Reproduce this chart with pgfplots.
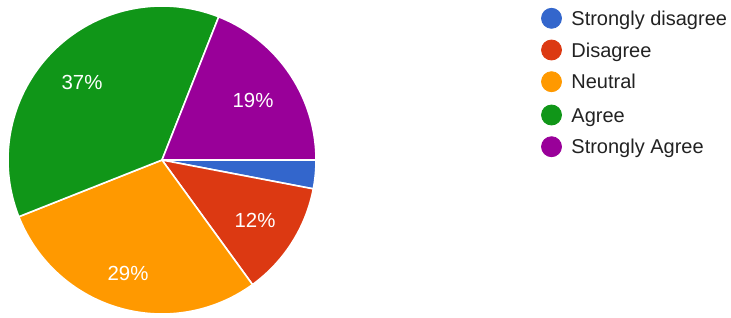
\documentclass[border=0pt]{standalone}
\usepackage{pgfplots}
\pgfplotsset{compat=1.18}
\usepackage{fontspec}
\setmainfont{Liberation Sans}
\definecolor{gblue}{HTML}{3366CC}
\definecolor{gred}{HTML}{DC3912}
\definecolor{gorange}{HTML}{FF9900}
\definecolor{ggreen}{HTML}{109618}
\definecolor{gpurple}{HTML}{990099}
\definecolor{gtext}{HTML}{222222}
% shares (percent), clockwise from 3 o'clock
\def\pA{3}  % Strongly disagree
\def\pB{12} % Disagree
\def\pC{29} % Neutral
\def\pD{37} % Agree
\def\pE{19} % Strongly Agree
\pgfmathsetmacro\aA{-3.6*\pA}
\pgfmathsetmacro\aB{\aA-3.6*\pB}
\pgfmathsetmacro\aC{\aB-3.6*\pC}
\pgfmathsetmacro\aD{\aC-3.6*\pD}
\pgfmathsetmacro\aE{\aD-3.6*\pE}
\def\cx{162}
\def\cy{-160}
\def\R{154}
\begin{document}
\begin{tikzpicture}
\begin{axis}[
  scale only axis, width=365.5pt, height=158.5pt,
  xmin=0, xmax=731, ymin=-317, ymax=0,
  hide axis, clip=false,
]
\path (axis cs:0,0) rectangle (axis cs:731,-317);
\addplot[fill=gblue, draw=white, line width=0.8pt, domain=\aA:0, samples=20]
  ({\cx+\R*cos(x)},{\cy+\R*sin(x)}) -- (axis cs:\cx,\cy) -- cycle;
\addplot[fill=gred, draw=white, line width=0.8pt, domain=\aB:\aA, samples=40]
  ({\cx+\R*cos(x)},{\cy+\R*sin(x)}) -- (axis cs:\cx,\cy) -- cycle;
\addplot[fill=gorange, draw=white, line width=0.8pt, domain=\aC:\aB, samples=80]
  ({\cx+\R*cos(x)},{\cy+\R*sin(x)}) -- (axis cs:\cx,\cy) -- cycle;
\addplot[fill=ggreen, draw=white, line width=0.8pt, domain=\aD:\aC, samples=100]
  ({\cx+\R*cos(x)},{\cy+\R*sin(x)}) -- (axis cs:\cx,\cy) -- cycle;
\addplot[fill=gpurple, draw=white, line width=0.8pt, domain=\aE:\aD, samples=60]
  ({\cx+\R*cos(x)},{\cy+\R*sin(x)}) -- (axis cs:\cx,\cy) -- cycle;
% slice labels
\begin{scope}[every node/.style={text=white, font=\fontsize{10.2}{12}\selectfont}]
\node at (axis cs:82,-82) {37\%};
\node at (axis cs:253,-100) {19\%};
\node at (axis cs:255,-220) {12\%};
\node at (axis cs:128,-273) {29\%};
\end{scope}
% legend
\addplot[only marks, mark=*, mark size=5pt, gblue, mark options={draw=none}] coordinates {(551.5,-18.3)};
\addplot[only marks, mark=*, mark size=5pt, gred, mark options={draw=none}] coordinates {(551.5,-50)};
\addplot[only marks, mark=*, mark size=5pt, gorange, mark options={draw=none}] coordinates {(551.5,-81.7)};
\addplot[only marks, mark=*, mark size=5pt, ggreen, mark options={draw=none}] coordinates {(551.5,-115)};
\addplot[only marks, mark=*, mark size=5pt, gpurple, mark options={draw=none}] coordinates {(551.5,-146.7)};
\begin{scope}[every node/.style={text=gtext, anchor=base west, inner sep=0pt, font=\fontsize{10}{12}\selectfont}]
\node at (axis cs:571,-25.3) {Strongly disagree};
\node at (axis cs:571,-57) {Disagree};
\node at (axis cs:571,-88.7) {Neutral};
\node at (axis cs:571,-122) {Agree};
\node at (axis cs:571,-153.7) {Strongly Agree};
\end{scope}
\end{axis}
\end{tikzpicture}
\end{document}
